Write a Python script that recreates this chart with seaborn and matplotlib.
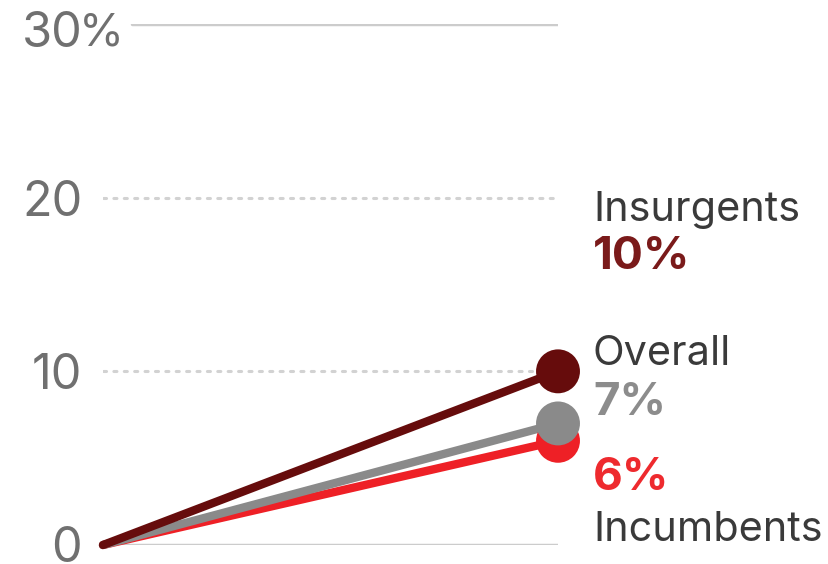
import matplotlib
matplotlib.use("Agg")
import matplotlib.pyplot as plt
import matplotlib.transforms as mtransforms
import pandas as pd
import seaborn as sns

# Share of races won, by candidate type
groups = ["Incumbents", "Overall", "Insurgents"]
start_values = [0, 0, 0]
end_values = [6, 7, 10]
value_labels = ["6%", "7%", "10%"]
y_ticks = [0, 10, 20, 30]
y_tick_labels = ["0", "10", "20", "30"]

line_colors = {"Incumbents": "#ee2026", "Overall": "#8a8a8a", "Insurgents": "#660c0c"}
label_colors = {"Incumbents": "#ee2a2e", "Overall": "#8c8c8c", "Insurgents": "#7a1a1a"}

rows = []
for g, s, e in zip(groups, start_values, end_values):
    rows.append({"step": 0, "value": s, "group": g})
    rows.append({"step": 1, "value": e, "group": g})
df = pd.DataFrame(rows)
ends = df[df["step"] == 1]

sns.set_theme(style="white")
plt.rcParams["font.family"] = ["Inter", "DejaVu Sans"]

W, H = 829, 564
fig = plt.figure(figsize=(W / 100, H / 100), dpi=100)
left, right = 103 / W, 558 / W
bottom, top = (H - 545) / H, (H - 24) / H
ax = fig.add_axes([left, bottom, right - left, top - bottom])
ax.set_xlim(0, 1)
ax.set_ylim(0, 30)

# gridlines
grid_c = "#cccccc"
ax.axhline(30, xmin=(132 - 103) / (558 - 103), xmax=1, color=grid_c, lw=2.5, zorder=0)
ax.axhline(0, color=grid_c, lw=2.5, zorder=0)
for y in (10, 20):
    ax.axhline(y, color="#d2d2d2", lw=2.2, ls=(0, (1, 2.4)), dash_capstyle="round", zorder=0)

sns.lineplot(data=df, x="step", y="value", hue="group", hue_order=groups,
             palette=line_colors, linewidth=6, legend=False, ax=ax,
             solid_capstyle="round", zorder=3)
for line in ax.get_lines()[-3:]:
    line.set_clip_on(False)
sns.scatterplot(data=ends, x="step", y="value", hue="group", hue_order=groups,
                palette=line_colors, s=1000, linewidth=0, legend=False, ax=ax,
                zorder=4, clip_on=False)

for sp in ax.spines.values():
    sp.set_visible(False)
ax.set_xticks([])
ax.set_xlabel("")
ax.set_ylabel("")
ax.set_yticks(y_ticks)
ax.set_yticklabels(y_tick_labels)
ax.tick_params(axis="y", length=0, pad=15, labelsize=35, labelcolor="#707070")
labels = ax.get_yticklabels()
# top label sits a little below its gridline, bottom one a touch above
labels[-1].set_transform(labels[-1].get_transform()
                         + mtransforms.ScaledTranslation(0, -5 / 100, fig.dpi_scale_trans))
labels[0].set_transform(labels[0].get_transform()
                        + mtransforms.ScaledTranslation(0, 1.5 / 100, fig.dpi_scale_trans))

trans = mtransforms.blended_transform_factory(fig.transFigure, ax.transData)
pct_trans = trans + mtransforms.ScaledTranslation(0, -5 / 100, fig.dpi_scale_trans)
ax.text(79 / W, 30, "%", transform=pct_trans, ha="left", va="center_baseline",
        fontsize=33, color="#707070")

# right-hand annotations
tx = 593 / W
name_fs, val_fs = 29.8, 33
name_c = "#3a3a3a"
ax.text(tx, 19.3, "Insurgents", transform=trans, ha="left", va="center",
        fontsize=name_fs, color=name_c)
ax.text(tx, 16.6, value_labels[2], transform=trans, ha="left", va="center",
        fontsize=val_fs, color=label_colors["Insurgents"], fontweight="bold")
ax.text(tx, 11.0, "Overall", transform=trans, ha="left", va="center",
        fontsize=name_fs, color=name_c)
ax.text(tx, 8.2, value_labels[1], transform=trans, ha="left", va="center",
        fontsize=val_fs, color=label_colors["Overall"], fontweight="bold")
ax.text(tx, 3.85, value_labels[0], transform=trans, ha="left", va="center",
        fontsize=val_fs, color=label_colors["Incumbents"], fontweight="bold")
ax.text(tx, 0.85, "Incumbents", transform=trans, ha="left", va="center",
        fontsize=name_fs, color=name_c)

fig.savefig("out.png", dpi=100, facecolor="white")
